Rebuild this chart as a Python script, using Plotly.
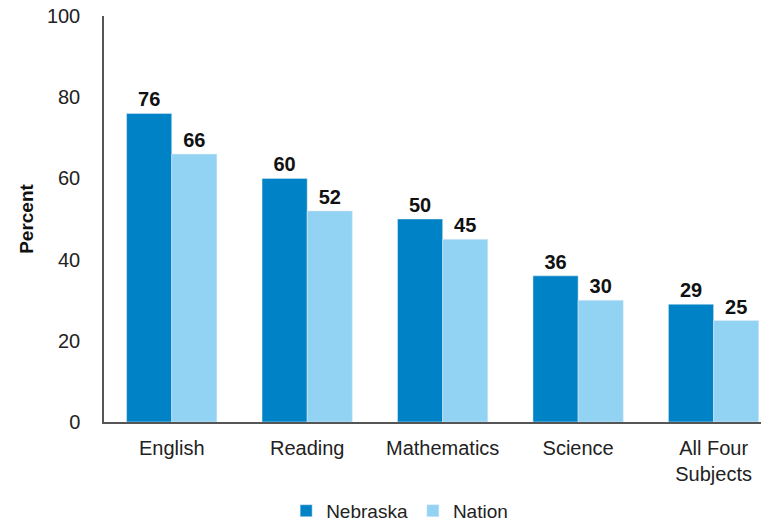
import plotly.graph_objects as go

categories = ["English", "Reading", "Mathematics", "Science", "All Four<br>Subjects"]
nebraska = [76, 60, 50, 36, 29]
nation = [66, 52, 45, 30, 25]
y_ticks = [0, 20, 40, 60, 80, 100]

FONT = "Liberation Sans, Arial, Helvetica, sans-serif"

fig = go.Figure()
fig.add_trace(go.Bar(
    name="Nebraska", x=categories, y=nebraska, marker_color="#0082C6",
    text=nebraska, textposition="outside", cliponaxis=False,
    textfont=dict(family=FONT, size=20, color="#111111", weight="bold"),
))
fig.add_trace(go.Bar(
    name="Nation", x=categories, y=nation, marker_color="#92D2F3",
    text=nation, textposition="outside", cliponaxis=False,
    textfont=dict(family=FONT, size=20, color="#111111", weight="bold"),
))

fig.update_layout(
    width=761, height=525,
    margin=dict(l=104, r=0, t=16, b=103, autoexpand=False),
    barmode="group", bargap=1/3, bargroupgap=0,
    plot_bgcolor="white", paper_bgcolor="white",
    font=dict(family=FONT, size=20, color="#222222"),
    legend=dict(orientation="h", x=0.45, xanchor="center", y=-0.172, yanchor="top",
                font=dict(size=19), itemwidth=30, traceorder="normal"),
    xaxis=dict(range=[-0.5, 4.35], showline=True, linecolor="#555555", linewidth=1.5,
               ticks="", tickfont=dict(size=20), ticklabelstandoff=7, automargin=False),
    yaxis=dict(range=[0, 100], tickvals=y_ticks, showline=True, linecolor="#555555",
               linewidth=1.5, showgrid=False, zeroline=False, ticks="", automargin=False,
               tickfont=dict(size=20), ticklabelstandoff=18,
               title=dict(text="<b>Percent</b>", font=dict(size=19, color="#111111"), standoff=8)),
)

fig.write_html("out.html", config={"displayModeBar": False},
               post_script="document.body.style.margin='0';document.body.style.overflow='hidden';")
